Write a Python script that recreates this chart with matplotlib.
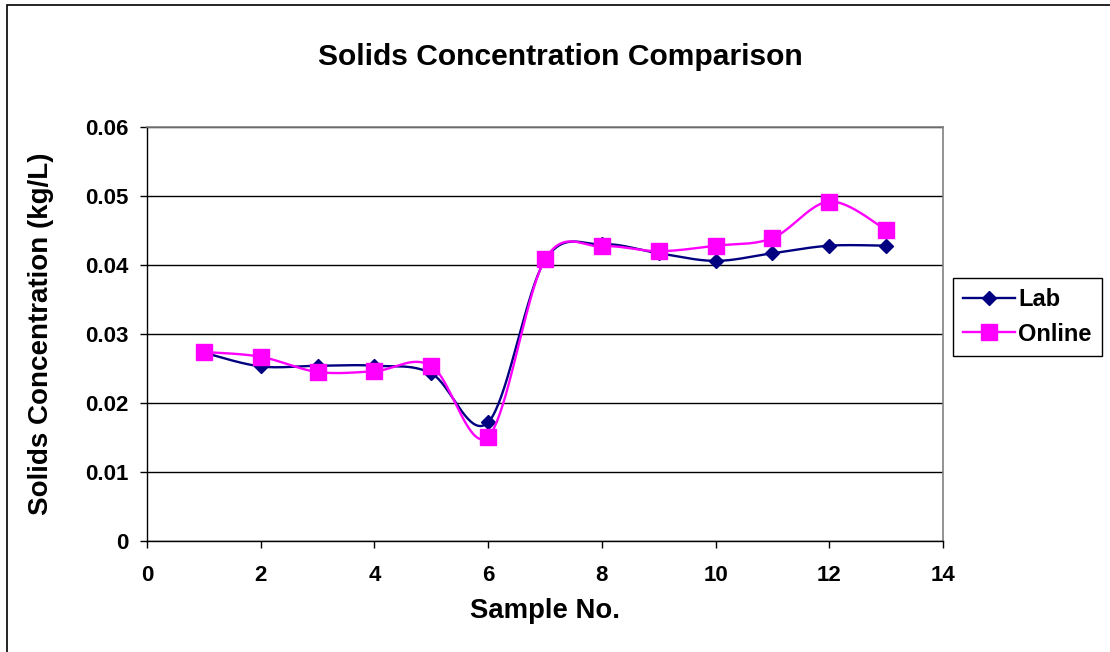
import matplotlib
matplotlib.rcParams['font.family'] = ['Liberation Sans', 'DejaVu Sans']
matplotlib.rcParams['font.weight'] = 'bold'

import numpy as np
import matplotlib.pyplot as plt
from matplotlib.patches import Rectangle
from matplotlib.lines import Line2D

# --------------------------------------
# Data
# --------------------------------------
samples = [1, 2, 3, 4, 5, 6, 7, 8, 9, 10, 11, 12, 13]
lab = [0.0273, 0.0253, 0.0254, 0.0254, 0.0243, 0.0172, 0.0407,
       0.0430, 0.0417, 0.0406, 0.0417, 0.0428, 0.0428]
online = [0.0274, 0.0267, 0.0245, 0.0246, 0.0254, 0.0151, 0.0408,
          0.0427, 0.0420, 0.0428, 0.0439, 0.0492, 0.0451]

yticks = [0, 0.01, 0.02, 0.03, 0.04, 0.05, 0.06]
xticks = [0, 2, 4, 6, 8, 10, 12, 14]


def smooth(x, y, n=40):
    # Excel-style smoothed line (Bezier through points, Catmull-Rom controls)
    x = np.asarray(x, float)
    y = np.asarray(y, float)
    px = np.concatenate([[x[0]], x, [x[-1]]])
    py = np.concatenate([[y[0]], y, [y[-1]]])
    t = np.linspace(0, 1, n)
    xs, ys = [], []
    for i in range(1, len(px) - 2):
        p0 = np.array([px[i], py[i]])
        p3 = np.array([px[i + 1], py[i + 1]])
        c1 = p0 + (np.array([px[i + 1], py[i + 1]]) - np.array([px[i - 1], py[i - 1]])) / 6
        c2 = p3 - (np.array([px[i + 2], py[i + 2]]) - np.array([px[i], py[i]])) / 6
        b = ((1 - t) ** 3)[:, None] * p0 + (3 * (1 - t) ** 2 * t)[:, None] * c1 \
            + (3 * (1 - t) * t ** 2)[:, None] * c2 + (t ** 3)[:, None] * p3
        xs.extend(b[:, 0])
        ys.extend(b[:, 1])
    return xs, ys


fig = plt.figure(figsize=(11.1, 6.52), dpi=100)
ax = fig.add_axes([147 / 1110, 1 - 541 / 652, 796 / 1110, 414 / 652])

lab_col = "#000080"
onl_col = "#FF00FF"

sx, sy = smooth(samples, lab)
ax.plot(sx, sy, color=lab_col, lw=1.7, zorder=3)
ax.plot(samples, lab, ls="none", marker="D", ms=7.2, color=lab_col, zorder=4)

sx, sy = smooth(samples, online)
ax.plot(sx, sy, color=onl_col, lw=1.7, zorder=5)
ax.plot(samples, online, ls="none", marker="s", ms=11, color=onl_col, zorder=6)

ax.set_xlim(0, 14)
ax.set_ylim(0, 0.06)
ax.set_xticks(xticks)
ax.set_yticks(yticks)
ax.set_xticklabels([str(v) for v in xticks])
ax.set_yticklabels(["0"] + [f"{v:.2f}" for v in yticks[1:]])
ax.yaxis.grid(True, color="black", lw=1)
ax.set_axisbelow(True)

ax.tick_params(axis="both", labelsize=16, direction="out", length=5, width=1, color="black")
ax.tick_params(axis="x", pad=12)
ax.tick_params(axis="y", pad=8)

for s in ["top", "right"]:
    ax.spines[s].set_color("#808080")
    ax.spines[s].set_linewidth(1.2)
for s in ["left", "bottom"]:
    ax.spines[s].set_color("black")
    ax.spines[s].set_linewidth(1)

ax.set_xlabel("Sample No.", fontsize=19.8, fontweight="bold", labelpad=9)
ax.set_ylabel("Solids Concentration (kg/L)", fontsize=20, fontweight="bold")
ax.yaxis.set_label_coords(-(147 - 54) / 796, 0.5)
fig.text(560 / 1110, 1 - 57 / 652, "Solids Concentration Comparison",
         fontsize=21.6, fontweight="bold", ha="center", va="center")

handles = [
    Line2D([], [], color=lab_col, lw=1.7, marker="D", ms=7.2),
    Line2D([], [], color=onl_col, lw=1.7, marker="s", ms=11),
]
leg = fig.legend(handles, ["Lab", "Online"], loc="upper left",
                 bbox_to_anchor=(953 / 1110, 1 - 278 / 652),
                 prop={"size": 17, "weight": "bold"}, frameon=True,
                 fancybox=False, edgecolor="black", framealpha=1,
                 borderpad=0.42, handlelength=2.2, handletextpad=0.15,
                 labelspacing=0.5, borderaxespad=0)
leg.get_frame().set_linewidth(1)

# outer chart border
fig.patches.append(Rectangle((7 / 1110, -0.1), 1.2, 1.1 - 5 / 652,
                             transform=fig.transFigure, fill=False,
                             edgecolor="black", lw=1.2))

plt.savefig("out.png", dpi=100)
plt.close()
